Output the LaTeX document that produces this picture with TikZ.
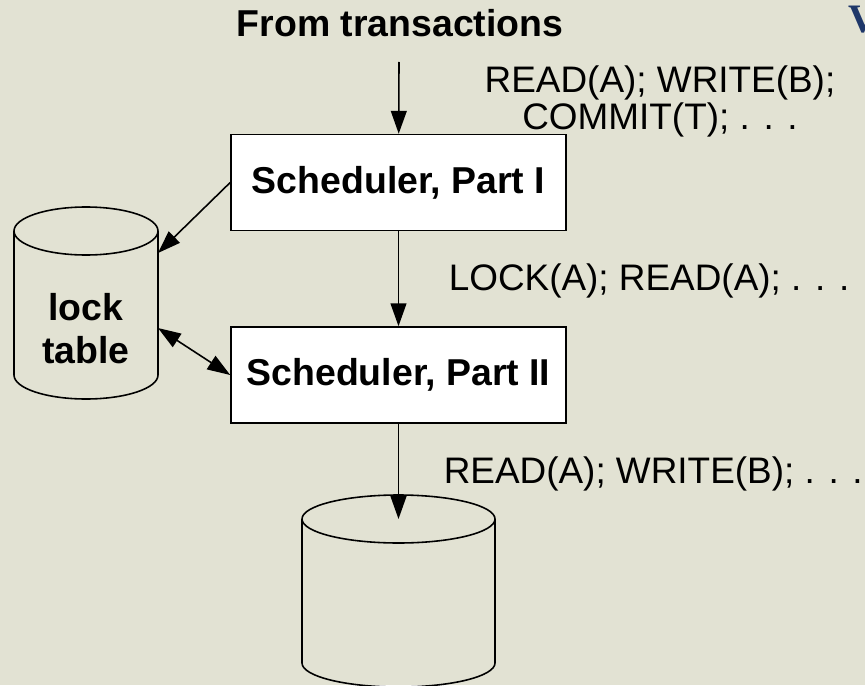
\documentclass[tikz,border=0pt]{standalone}
\usepackage{fontspec}
\setmainfont{Liberation Sans}
\newfontfamily\titleserif{Liberation Serif}
\usetikzlibrary{arrows.meta,positioning}
\definecolor{slidebg}{RGB}{226,226,211}
\definecolor{titleblue}{RGB}{30,55,105}

\begin{document}
\begin{tikzpicture}[line width=0.9pt, font=\fontsize{21}{21}\selectfont,
  sched/.style={draw, fill=white, minimum width=6.7cm, minimum height=1.92cm, font=\fontsize{21.3}{21}\selectfont\bfseries},
  flow/.style={-{Triangle[length=13pt,width=9pt]}},
  both/.style={{Triangle[length=13pt,width=9pt]}-{Triangle[length=13pt,width=9pt]}},
  msg/.style={inner sep=0pt, align=center}]
  \fill[slidebg] (0,0) rectangle (17.3,13.7);
  \useasboundingbox (0,0) rectangle (17.3,13.7);
  % cut-off title letter
  \node[anchor=base west, inner sep=0pt, text=titleblue, font=\fontsize{23}{23}\selectfont\titleserif\bfseries] (title) at (16.96,13.04) {V};
  % source and schedulers
  \node[anchor=base, inner sep=0pt, font=\fontsize{21.3}{21}\selectfont\bfseries] (src) at (8.0,12.96) {From transactions};
  \coordinate (in) at (7.98,12.46);
  \node[sched] (s1) at (7.97,10.05) {Scheduler, Part I};
  \node[sched] (s2) at (7.97,6.2) {Scheduler, Part II};
  % lock table cylinder
  \draw (0.28,9.08) -- (0.28,6.2) arc[start angle=180, end angle=360, x radius=1.44, y radius=0.48] -- (3.16,9.08);
  \draw (1.72,9.08) ellipse[x radius=1.44, y radius=0.48];
  \node[align=center, font=\fontsize{21.3}{24.4}\selectfont\bfseries] (lock) at (1.72,7.12) {lock\\table};
  \coordinate (lk1) at (3.16,8.64);
  \coordinate (lk2) at (3.16,7.14);
  % database cylinder
  \draw (6.04,3.32) -- (6.04,0.44) arc[start angle=180, end angle=360, x radius=1.93, y radius=0.48] -- (9.9,3.32);
  \draw (7.97,3.32) ellipse[x radius=1.93, y radius=0.48];
  \coordinate (db) at (7.97,3.32);
  % arrows
  \draw[flow] (in) -- (s1);
  \draw[flow] (s1) -- (s2);
  \draw[flow] (s2) -- (db);
  \draw[flow] (s1.west) -- (lk1);
  \draw[both] (lk2) -- (s2.west);
  % action streams
  \node[msg, anchor=base] (m1) at (13.2,11.12) {READ(A); WRITE(B);\\COMMIT(T); . . .};
  \node[msg, anchor=base west] (m2) at (8.96,7.9) {LOCK(A); READ(A); . . .};
  \node[msg, anchor=base west] (m3) at (8.86,4.04) {READ(A); WRITE(B); . . .};
\end{tikzpicture}
\end{document}
